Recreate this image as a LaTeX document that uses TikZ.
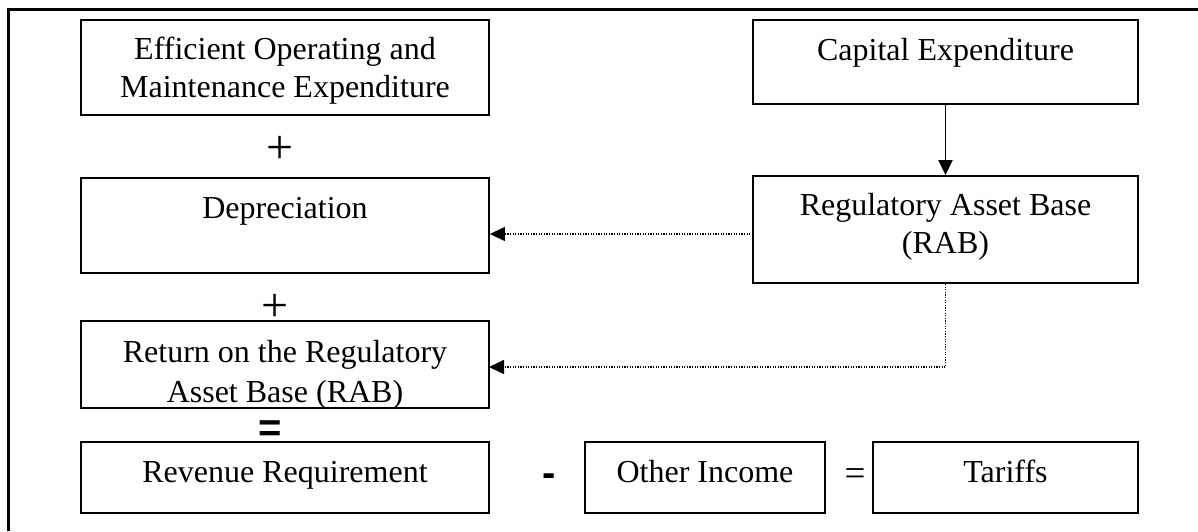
\documentclass[tikz,border=0pt]{standalone}
\usepackage{fontspec}
\setmainfont{Liberation Serif}
\newfontfamily\symfont{Liberation Sans}
\usetikzlibrary{arrows.meta}
\begin{document}
\begin{tikzpicture}[x=1pt,y=-1pt,
  box/.style={draw,line width=1.8pt,inner sep=0pt,minimum width=#1},
  txt/.style={anchor=base,inner sep=0pt,font=\fontsize{32}{38}\selectfont},
  opsym/.style={inner sep=0pt},
  solidarrow/.style={line width=1.8pt,-{Triangle[length=15pt,width=14pt]}},
  dotarrow/.style={line width=1.2pt,dash pattern=on 1.3pt off 1.3pt,-{Triangle[length=15pt,width=14pt]}}]
\useasboundingbox (0,0) rectangle (1198,531);
% frame
\draw[line width=3pt] (8,531) -- (8,9) -- (1198,9);
% boxes
\node[box=408pt,minimum height=95pt] (eome) at (285,67.5) {};
\node[box=408pt,minimum height=95pt] (dep) at (285,225.5) {};
\node[box=408pt,minimum height=87pt] (ret) at (285,364.5) {};
\node[box=408pt,minimum height=71pt] (rev) at (285,477.5) {};
\node[box=240pt,minimum height=71pt] (oth) at (705,477.5) {};
\node[box=265pt,minimum height=71pt] (tar) at (1005.5,477.5) {};
\node[box=385pt,minimum height=84pt] (capex) at (945.5,62) {};
\node[box=385pt,minimum height=107pt] (rab) at (945.5,229.5) {};
% texts
\node[txt] (t1a) at (285,59) {Efficient Operating and};
\node[txt] (t1b) at (285,97) {Maintenance Expenditure};
\node[txt] (t2) at (285,218) {Depreciation};
\begin{scope}
\clip (ret.north west) rectangle (ret.south east);
\node[txt] (t3a) at (285,362) {Return on the Regulatory};
\node[txt] (t3b) at (285,402) {Asset Base (RAB)};
\end{scope}
\node[txt] (t4) at (285,482) {Revenue Requirement};
\node[txt] (t5) at (705,482) {Other Income};
\node[txt] (t6) at (1005.5,482) {Tariffs};
\node[txt] (t7) at (945.5,60) {Capital Expenditure};
\node[txt] (t8a) at (945.5,215) {Regulatory Asset Base};
\node[txt] (t8b) at (945.5,253) {(RAB)};
% operators
\node[opsym,font=\fontsize{48}{52}\selectfont] (plus1) at (280,150) {+};
\node[opsym,font=\fontsize{48}{52}\selectfont] (plus2) at (275,308) {+};
\node[opsym,font=\symfont\bfseries\fontsize{40}{44}\selectfont] (eq1) at (270,431) {=};
\node[opsym,font=\symfont\bfseries\fontsize{40}{44}\selectfont] (minus) at (549,480) {-};
\node[opsym,font=\fontsize{37}{40}\selectfont] (eq2) at (855,477) {=};
% connectors
\draw[solidarrow] (capex.south) -- (rab.north);
\coordinate (a1) at (753,234);
\draw[dotarrow] (a1) -- (dep.east |- a1);
\coordinate (a2) at (489,367);
\draw[dotarrow] (rab.south) |- (a2);
\end{tikzpicture}
\end{document}
